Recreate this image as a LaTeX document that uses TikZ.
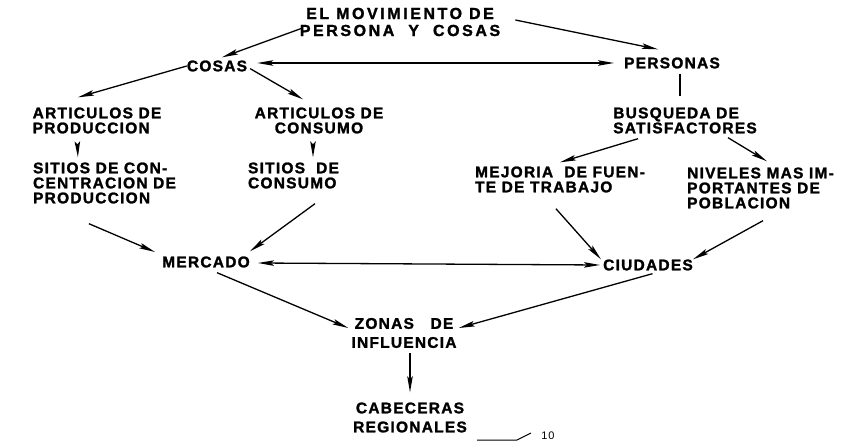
\documentclass[tikz,border=0pt]{standalone}
\usepackage{fontspec}
\usepackage{tikz}
\usetikzlibrary{arrows.meta}
\newfontfamily\lettering{Liberation Sans}[LetterSpace=8.0, BoldFeatures={FakeBold=1.6}]
\newfontfamily\headlettering{Liberation Sans}[LetterSpace=16.0, BoldFeatures={FakeBold=1.6}]
\tikzset{
    box/.style={inner sep=0pt, font=\lettering\bfseries\fontsize{15.5}{15}\selectfont},
    boxl/.style={box, align=left},
    boxc/.style={box, align=center},
    boxwide/.style={box, align=center, font=\lettering\bfseries\fontsize{15.5}{19}\selectfont},
    heading/.style={inner sep=0pt, align=center, font=\headlettering\bfseries\fontsize{16}{17}\selectfont},
    arr/.style={-{Stealth[length=16pt, width=5.5pt, inset=3pt]}, line width=1.3pt},
    darr/.style={{Stealth[length=16pt, width=5.5pt, inset=3pt]}-{Stealth[length=16pt, width=5.5pt, inset=3pt]}, line width=1.3pt},
}

\begin{document}
\begin{tikzpicture}[x=1pt, y=-1pt]
    \useasboundingbox (0,0) rectangle (867,446);

    \node[heading] (mov) at (400,22) {EL MOVIMIENTO DE\\PERSONA\ \ Y\ \ COSAS};
    \node[box] (cosas) at (217,66) {COSAS};
    \node[box] (personas) at (672,63) {PERSONAS};
    \node[boxl] (artprod) at (97,120.5) {ARTICULOS DE\\PRODUCCION};
    \node[boxc] (artcons) at (319,120.5) {ARTICULOS DE\\CONSUMO};
    \node[boxl] (sitprod) at (104.5,183) {SITIOS DE CON-\\CENTRACION DE\\PRODUCCION};
    \node[boxl] (sitcons) at (293.5,175.5) {SITIOS\ \ DE\\CONSUMO};
    \node[boxl] (busq) at (685,120.5) {BUSQUEDA DE\\SATISFACTORES};
    \node[boxl] (mejora) at (560,179.5) {MEJORIA\ \ DE FUEN-\\TE DE TRABAJO};
    \node[boxl] (niveles) at (760.5,188) {NIVELES MAS IM-\\PORTANTES DE\\POBLACION};
    \node[box] (mercado) at (206,262) {MERCADO};
    \node[box] (ciudades) at (648,265) {CIUDADES};
    \node[boxwide] (zonas) at (404,333) {ZONAS\ \ \ DE\\INFLUENCIA};
    \node[boxwide] (cabeceras) at (410,417.5) {CABECERAS\\REGIONALES};
    \node[inner sep=0pt, font=\lettering\fontsize{11}{12}\selectfont] (pag) at (548,436) {10};
    \coordinate (raya) at (477,440);

    \draw ([xshift=3pt,yshift=-6pt]mov.west) edge[arr] ([xshift=5pt,yshift=3pt]cosas.north);
    \draw ([xshift=15pt,yshift=2pt]mov.east) edge[arr] ([xshift=-14pt,yshift=8pt]personas.north);
    \draw ([xshift=10pt,yshift=3pt]cosas.east) edge[darr] ([xshift=-10pt]personas.west);
    \draw (cosas.west) edge[arr] ([xshift=-19pt,yshift=10pt]artprod.north);
    \draw ([xshift=3pt,yshift=3pt]cosas.south east) edge[arr] ([xshift=-16pt,yshift=8pt]artcons.north);
    \draw ([xshift=45pt,yshift=-12pt]artprod.south west) edge[arr] ([xshift=45pt,yshift=5pt]sitprod.north west);
    \draw ([xshift=-6pt,yshift=-14pt]artcons.south) edge[arr] ([xshift=19.5pt,yshift=5pt]sitcons.north);
    \draw ([xshift=56pt,yshift=-20pt]sitprod.south west) edge[arr] ([xshift=-7pt,yshift=10pt]mercado.west);
    \draw ([xshift=21.5pt,yshift=-15pt]sitcons.south) edge[arr] ([yshift=5pt]mercado.north east);
    \draw ([xshift=8pt,yshift=-1pt]mercado.east) edge[darr] ([xshift=-3pt]ciudades.west);
    \draw ([xshift=11pt,yshift=-5pt]mercado.south) edge[arr] ([xshift=-3pt,yshift=5pt]zonas.west);
    \draw ([xshift=4.5pt,yshift=-3pt]ciudades.south) edge[arr] ([xshift=2pt,yshift=5pt]zonas.east);
    \draw ([xshift=6pt,yshift=-5pt]zonas.south) edge[arr] ([yshift=10pt]cabeceras.north);
    \draw[line width=1.3pt] ([xshift=8pt,yshift=-5pt]personas.south) -- ([xshift=-5pt,yshift=11pt]busq.north);
    \draw ([xshift=25pt,yshift=-5pt]busq.south west) edge[arr] ([yshift=4pt]mejora.north);
    \draw ([xshift=43pt,yshift=-4pt]busq.south) edge[arr] ([xshift=6.5pt,yshift=6pt]niveles.north);
    \draw ([xshift=81pt,yshift=-16pt]mejora.south west) edge[arr] ([xshift=-2pt]ciudades.north west);
    \draw ([xshift=2.5pt,yshift=-12pt]niveles.south) edge[arr] (ciudades.north east);
    \draw[line width=1pt] (raya) -- ++(40,0) -- ++(14,-7);
  \end{tikzpicture}
\end{document}
